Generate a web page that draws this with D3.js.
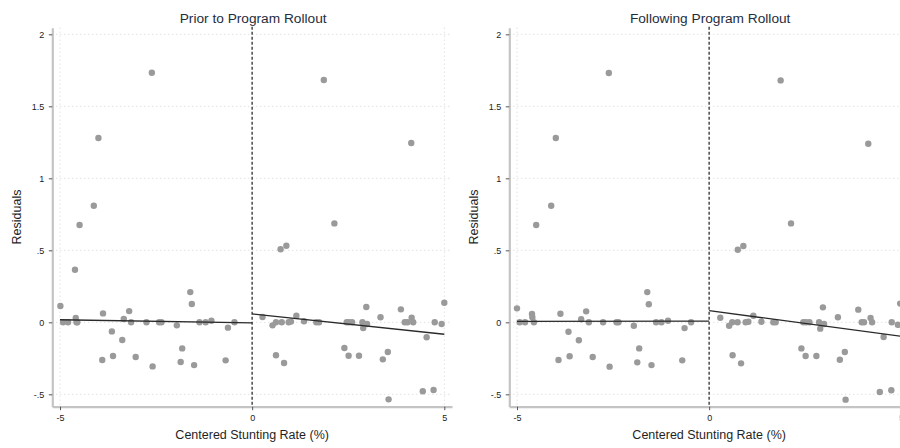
<!DOCTYPE html>
<html>
<head>
<meta charset="utf-8">
<script src="https://cdn.jsdelivr.net/npm/d3@7"></script>
<style>
  html, body { margin: 0; padding: 0; background: #fff; }
  svg { display: block; overflow: hidden; }
  text { font-family: "Liberation Sans", Arial, sans-serif; }
</style>
</head>
<body>
<svg id="chart" width="900" height="448"></svg>
<script>
// ---------- DATA ----------
const panelTitles = ["Prior to Program Rollout", "Following Program Rollout"];
const xTitle = "Centered Stunting Rate (%)";
const yTitle = "Residuals";
const xTickValues = [-5, 0, 5];
const xTickLabels = ["-5", "0", "5"];
const yTickValues = [-0.5, 0, 0.5, 1, 1.5, 2];
const yTickLabels = ["-.5", "0", ".5", "1", "1.5", "2"];

const priorX = [-2.61, -4.0, -4.12, -4.49, -4.61, -1.61, 1.865, 4.14, 2.14, 0.74, 0.89,
  -4.99, -4.92, -4.79, -4.59, -4.57, -4.55, -3.88, -3.9, -3.65, -3.62, -3.38, -3.34, -3.2, -3.15, -3.03,
  -2.75, -2.59, -2.42, -2.36, -1.96, -1.86, -1.82, -1.57, -1.51, -1.37, -1.21, -1.06, -0.69, -0.63, -0.46,
  0.27, 0.53, 0.62, 0.62, 0.77, 0.83, 0.95, 1.01, 1.15, 1.35, 1.67, 1.74, 2.4, 2.46, 2.52, 2.6, 2.51,
  2.78, 2.87, 2.89, 2.97, 2.99, 3.34, 3.4, 3.53, 3.55, 3.87, 3.97, 4.04, 4.15, 4.19, 4.44, 4.54, 4.72,
  4.75, 4.93, 5.0];
const priorY = [1.733, 1.28, 0.81, 0.676, 0.365, 0.21, 1.683, 1.245, 0.687, 0.507, 0.532,
  0.113, 0, 0, 0.03, 0, 0, 0.062, -0.262, -0.063, -0.234, -0.123, 0.023, 0.078, 0, -0.241,
  0, -0.306, 0, 0, -0.021, -0.276, -0.181, 0.127, -0.297, 0, 0, 0.011, -0.264, -0.037, 0,
  0.037, -0.021, 0, -0.229, 0, -0.283, 0, 0.005, 0.046, 0.007, 0, 0, -0.178, 0, 0, 0, -0.232,
  -0.232, 0, -0.04, 0.106, -0.012, 0.035, -0.257, -0.206, -0.535, 0.09, 0, 0, 0.032, 0, -0.479, -0.104, -0.47,
  0, -0.012, 0.136];

const followX = [-2.61, -3.99, -4.11, -4.5, 1.86, 4.14, 2.13, 0.745, 0.89,
  -5.0, -4.93, -4.79, -4.61, -4.6, -4.56, -3.87, -3.92, -3.66, -3.63, -3.39, -3.33, -3.2, -3.13, -3.03,
  -2.76, -2.59, -2.41, -2.36, -1.96, -1.87, -1.82, -1.61, -1.57, -1.5, -1.38, -1.24, -1.07, -0.7, -0.64, -0.47,
  0.29, 0.52, 0.6, 0.74, 0.61, 0.83, 0.95, 1.02, 1.15, 1.36, 1.67, 1.73, 2.4, 2.45, 2.52, 2.61, 2.51,
  2.79, 2.86, 2.89, 2.96, 2.99, 3.35, 3.4, 3.53, 3.55, 3.88, 3.97, 4.03, 4.2, 4.24, 4.44, 4.54, 4.74,
  4.75, 4.91, 4.97];
const followY = [1.731, 1.28, 0.81, 0.676, 1.68, 1.24, 0.687, 0.504, 0.53,
  0.097, 0, 0, 0.058, 0.035, 0, 0.06, -0.262, -0.065, -0.236, -0.125, 0.021, 0.076, 0, -0.241,
  0, -0.308, 0, 0, -0.024, -0.278, -0.181, 0.21, 0.125, -0.297, 0, 0, 0.011, -0.264, -0.04, 0,
  0.032, -0.024, 0, 0, -0.229, -0.285, 0, 0.004, 0.046, 0.004, 0, 0, -0.181, 0, 0, 0, -0.234,
  -0.234, 0, -0.044, 0.104, -0.012, 0.035, -0.26, -0.206, -0.537, 0.088, 0, 0, 0.03, 0, -0.484, -0.102, -0.472,
  0, -0.017, 0.13];

// fitted lines: [x0, x1] and [y0, y1] for each segment (pre-cutoff, post-cutoff)
const priorFitPreX = [-5, 0],  priorFitPreY = [0.018, -0.004];
const priorFitPostX = [0, 5],  priorFitPostY = [0.058, -0.083];
const followFitPreX = [-5, 0], followFitPreY = [0.007, 0.008];
const followFitPostX = [0, 5], followFitPostY = [0.081, -0.097];

// ---------- DRAW ----------
const svg = d3.select("#chart");
const xDomain = [-5.2, 5.2];
const yDomain = [-0.586, 2.046];
const plotTop = 27.7, plotBottom = 406.7;

const panels = [
  { left: 52.3, title: panelTitles[0], xs: priorX, ys: priorY,
    fits: [[priorFitPreX, priorFitPreY], [priorFitPostX, priorFitPostY]] },
  { left: 509.3, title: panelTitles[1], xs: followX, ys: followY,
    fits: [[followFitPreX, followFitPreY], [followFitPostX, followFitPostY]] }
];

panels.forEach(p => {
  const g = svg.append("g");
  const x = d3.scaleLinear().domain(xDomain).range([p.left, p.left + 399.7]);
  const y = d3.scaleLinear().domain(yDomain).range([plotBottom, plotTop]);

  // grid lines
  g.append("g").selectAll("line").data(yTickValues).join("line")
    .attr("x1", x(xDomain[0])).attr("x2", x(xDomain[1]))
    .attr("y1", d => y(d)).attr("y2", d => y(d))
    .attr("stroke", "#d4d4d4").attr("stroke-width", 1).attr("stroke-dasharray", "1,3");
  g.append("g").selectAll("line").data(xTickValues.filter(v => v !== 0)).join("line")
    .attr("x1", d => x(d)).attr("x2", d => x(d))
    .attr("y1", plotTop).attr("y2", plotBottom)
    .attr("stroke", "#d4d4d4").attr("stroke-width", 1).attr("stroke-dasharray", "1,3");

  // y axis
  const yAxis = d3.axisLeft(y).tickValues(yTickValues)
    .tickFormat((d, i) => yTickLabels[i]).tickSize(3.5).tickPadding(4.5).tickSizeOuter(0);
  const ya = g.append("g").attr("transform", `translate(${p.left},0)`).call(yAxis);
  ya.select(".domain").attr("stroke", "#c4c4c4").attr("stroke-width", 2.2);
  ya.selectAll(".tick line").attr("stroke", "#555").attr("stroke-width", 1);
  ya.selectAll(".tick text").attr("font-size", 9).attr("fill", "#222")
    .attr("font-family", "Liberation Sans, Arial, sans-serif");

  // x axis
  const xAxis = d3.axisBottom(x).tickValues(xTickValues)
    .tickFormat((d, i) => xTickLabels[i]).tickSize(3.5).tickPadding(4).tickSizeOuter(0);
  const xa = g.append("g").attr("transform", `translate(0,${plotBottom})`).call(xAxis);
  xa.select(".domain").attr("stroke", "#c4c4c4").attr("stroke-width", 2.2);
  xa.selectAll(".tick line").attr("stroke", "#555").attr("stroke-width", 1);
  xa.selectAll(".tick text").attr("font-size", 9).attr("fill", "#222")
    .attr("font-family", "Liberation Sans, Arial, sans-serif");

  // cutoff dashed line
  g.append("line")
    .attr("x1", x(0)).attr("x2", x(0)).attr("y1", plotTop - 1).attr("y2", plotBottom)
    .attr("stroke", "#555").attr("stroke-width", 1.6).attr("stroke-dasharray", "3,2");

  // points
  g.append("g").selectAll("circle").data(p.xs.map((v, i) => [v, p.ys[i]])).join("circle")
    .attr("cx", d => x(d[0])).attr("cy", d => y(d[1])).attr("r", 3.2)
    .attr("fill", "#9a9a9a");

  // fit lines
  p.fits.forEach(([fx, fy]) => {
    g.append("line")
      .attr("x1", x(fx[0])).attr("x2", x(fx[1]))
      .attr("y1", y(fy[0])).attr("y2", y(fy[1]))
      .attr("stroke", "#2a2a2a").attr("stroke-width", 1.3);
  });

  // titles
  g.append("text").attr("x", x(0) + 1).attr("y", 22.5).attr("text-anchor", "middle")
    .attr("font-size", 13.7).attr("fill", "#1f2d3d").text(p.title);
  g.append("text").attr("x", x(0)).attr("y", 438.5).attr("text-anchor", "middle")
    .attr("font-size", 12.5).attr("fill", "#1f1f1f").text(xTitle);
  g.append("text")
    .attr("transform", `translate(${p.left - 31},${217}) rotate(-90)`)
    .attr("text-anchor", "middle").attr("font-size", 12.5).attr("fill", "#1f1f1f").text(yTitle);
});
</script>
</body>
</html>
